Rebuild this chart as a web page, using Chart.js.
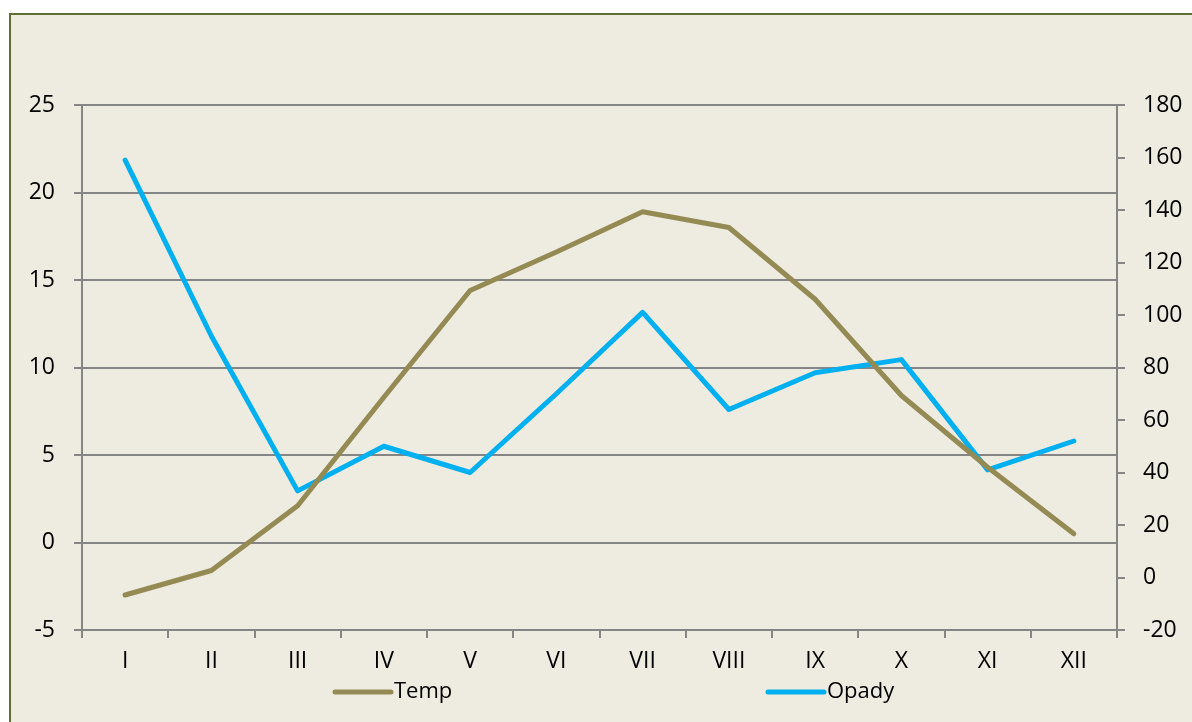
<!DOCTYPE html>
<html>
<head>
<meta charset="utf-8">
<script src="https://cdn.jsdelivr.net/npm/chart.js@4"></script>
<style>
  html, body { margin: 0; padding: 0; background: #ffffff; overflow: hidden; }
  #box {
    position: absolute; left: 9px; top: 13px;
    width: 1181px; height: 707px;
    border: 2px solid #5f6f35; border-right: none; border-bottom: none;
    background: #eeebe0;
  }
  #chart { display: block; }
</style>
</head>
<body>
<div id="box"><canvas id="chart" width="1181" height="707"></canvas></div>
<script>
const months = ['I', 'II', 'III', 'IV', 'V', 'VI', 'VII', 'VIII', 'IX', 'X', 'XI', 'XII'];
const temp = [-3.0, -1.6, 2.1, 8.3, 14.4, 16.6, 18.9, 18.0, 13.9, 8.4, 4.3, 0.5];
const opady = [159, 92, 33, 50, 40, 70, 101, 64, 78, 83, 41, 52];

const FONT = "'Open Sans', 'Liberation Sans', sans-serif";
const gridColor = '#858585';

// legend drawn by hand, Excel spreads the two entries far apart
const bottomLegend = {
    id: 'bottomLegend',
    afterDraw(chart) {
        const ctx = chart.ctx;
        const spots = [324, 757];
        const y = chart.chartArea.bottom + 62;
        ctx.save();
        ctx.font = '22px ' + FONT;
        ctx.textBaseline = 'middle';
        ctx.fillStyle = '#000';
        chart.data.datasets.forEach((ds, i) => {
            const x = spots[i];
            ctx.strokeStyle = ds.borderColor;
            ctx.lineWidth = 5;
            ctx.lineCap = 'round';
            ctx.beginPath();
            ctx.moveTo(x, y);
            ctx.lineTo(x + 56, y);
            ctx.stroke();
            ctx.fillText(ds.label, x + 59, y);
        });
        ctx.restore();
    }
};

new Chart(document.getElementById('chart'), {
    type: 'line',
    data: {
        labels: months,
        datasets: [{
            label: 'Temp',
            data: temp,
            yAxisID: 'y',
            borderColor: '#948a54',
            backgroundColor: '#948a54',
            borderWidth: 5,
            pointRadius: 0,
            borderCapStyle: 'round',
            borderJoinStyle: 'round',
            tension: 0
        }, {
            label: 'Opady',
            data: opady,
            yAxisID: 'y1',
            borderColor: '#00b0f0',
            backgroundColor: '#00b0f0',
            borderWidth: 5,
            pointRadius: 0,
            borderCapStyle: 'round',
            borderJoinStyle: 'round',
            tension: 0
        }]
    },
    options: {
        responsive: false,
        animation: false,
        layout: { padding: { top: 90, left: 0, right: 0, bottom: 0 } },
        plugins: {
            legend: { display: false },
            tooltip: { enabled: false }
        },
        scales: {
            x: {
                offset: true,
                grid: {
                    offset: true,
                    drawOnChartArea: false,
                    color: gridColor,
                    lineWidth: 2,
                    tickLength: 8
                },
                border: { color: gridColor, width: 2 },
                ticks: { color: '#000', font: { family: FONT, size: 23 }, padding: 10, maxRotation: 0 },
                afterFit: (s) => { s.height = 92; }
            },
            y: {
                position: 'left',
                min: -5,
                max: 25,
                ticks: { stepSize: 5, color: '#000', font: { family: FONT, size: 23 }, padding: 19 },
                grid: { color: gridColor, lineWidth: 2, tickLength: 8 },
                border: { color: gridColor, width: 2 },
                afterFit: (s) => { s.width = 71; }
            },
            y1: {
                position: 'right',
                min: -20,
                max: 180,
                ticks: { stepSize: 20, color: '#000', font: { family: FONT, size: 23 }, padding: 18 },
                grid: { drawOnChartArea: false, color: gridColor, lineWidth: 2, tickLength: 8 },
                border: { color: gridColor, width: 2 },
                afterFit: (s) => { s.width = 75; }
            }
        }
    },
    plugins: [bottomLegend]
});
</script>
</body>
</html>
